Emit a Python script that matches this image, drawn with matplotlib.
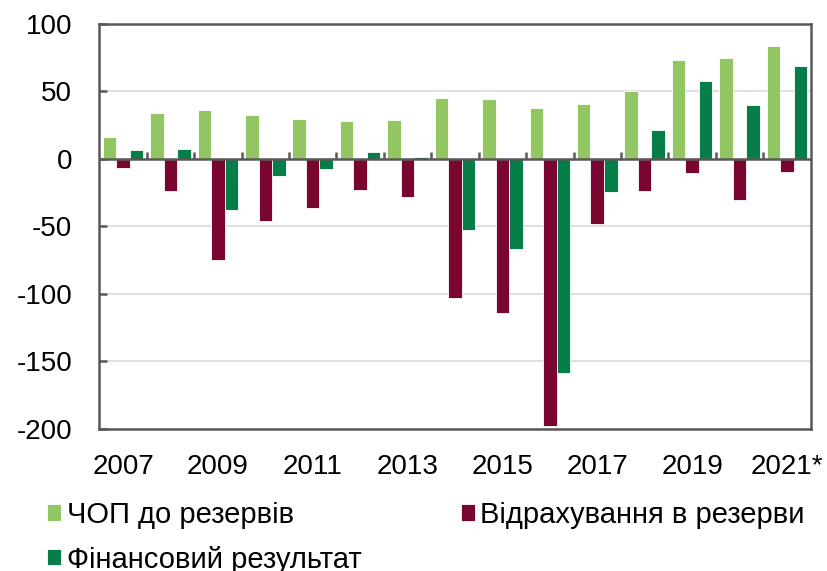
import matplotlib
matplotlib.use("Agg")
import matplotlib.pyplot as plt
import numpy as np

years = ["2007", "2008", "2009", "2010", "2011", "2012", "2013", "2014",
         "2015", "2016", "2017", "2018", "2019", "2020", "2021*"]
op_income = [16, 34, 36, 32.5, 29.5, 28, 29, 45.5, 44.5, 37.5, 40.5, 50.5, 73.5, 74.5, 84]
provisions = [-7, -24, -75, -46, -36, -23, -28, -103, -114, -198, -48, -23.5, -10.5, -30.5, -10]
fin_result = [6.5, 7, -38, -13, -7.5, 5, 1.5, -53, -66.5, -159, -24.5, 21.5, 58, 40, 68.5]
labels = ["ЧОП до резервів", "Відрахування в резерви", "Фінансовий результат"]


def main() -> None:
    plt.rcParams['font.family'] = ['Liberation Sans', 'DejaVu Sans']
    plt.rcParams['axes.unicode_minus'] = False

    fig = plt.figure(figsize=(8.28, 5.71), dpi=100)
    ax = fig.add_axes([0.12, 0.249, 0.859, 0.709])

    x = np.arange(len(years))
    w = 0.285
    spine_col = '#595959'

    b1 = ax.bar(x - w, op_income, w, color='#92C663', edgecolor='white', linewidth=0.6, zorder=3)
    b2 = ax.bar(x, provisions, w, color='#7A0531', edgecolor='white', linewidth=0.6, zorder=3)
    b3 = ax.bar(x + w, fin_result, w, color='#067E47', edgecolor='white', linewidth=0.6, zorder=3)

    ax.set_xlim(-0.5, len(years) - 0.5)
    ax.set_ylim(-200, 100)
    ax.set_yticks(np.arange(-200, 101, 50))
    ax.grid(axis='y', color='#D9D9D9', linewidth=1.2, zorder=0)

    # zero line with category separators
    ax.axhline(0, color=spine_col, linewidth=1.8, zorder=4)
    ax.vlines(x[:-1] + 0.5, 0, 5, color=spine_col, linewidth=1.8, zorder=4)

    ax.set_xticks(x[::2])
    ax.set_xticklabels(years[::2])
    ax.tick_params(axis='x', length=0, pad=18, labelsize=20)
    ax.tick_params(axis='y', direction='in', length=6, width=1.8, color=spine_col,
                   pad=19.5, labelsize=20)

    for s in ax.spines.values():
        s.set_color(spine_col)
        s.set_linewidth(1.8)

    fig.legend([b1, b3, b2], [labels[0], labels[2], labels[1]], ncol=2,
               loc='upper left', bbox_to_anchor=(0.057, 0.123), frameon=False,
               fontsize=21, handlelength=0.48, handleheight=0.48, handletextpad=0.19,
               columnspacing=3.4, labelspacing=0.58, borderaxespad=0, borderpad=0)

    fig.savefig("out.png", dpi=100)
    plt.close(fig)


if __name__ == "__main__":
    main()
